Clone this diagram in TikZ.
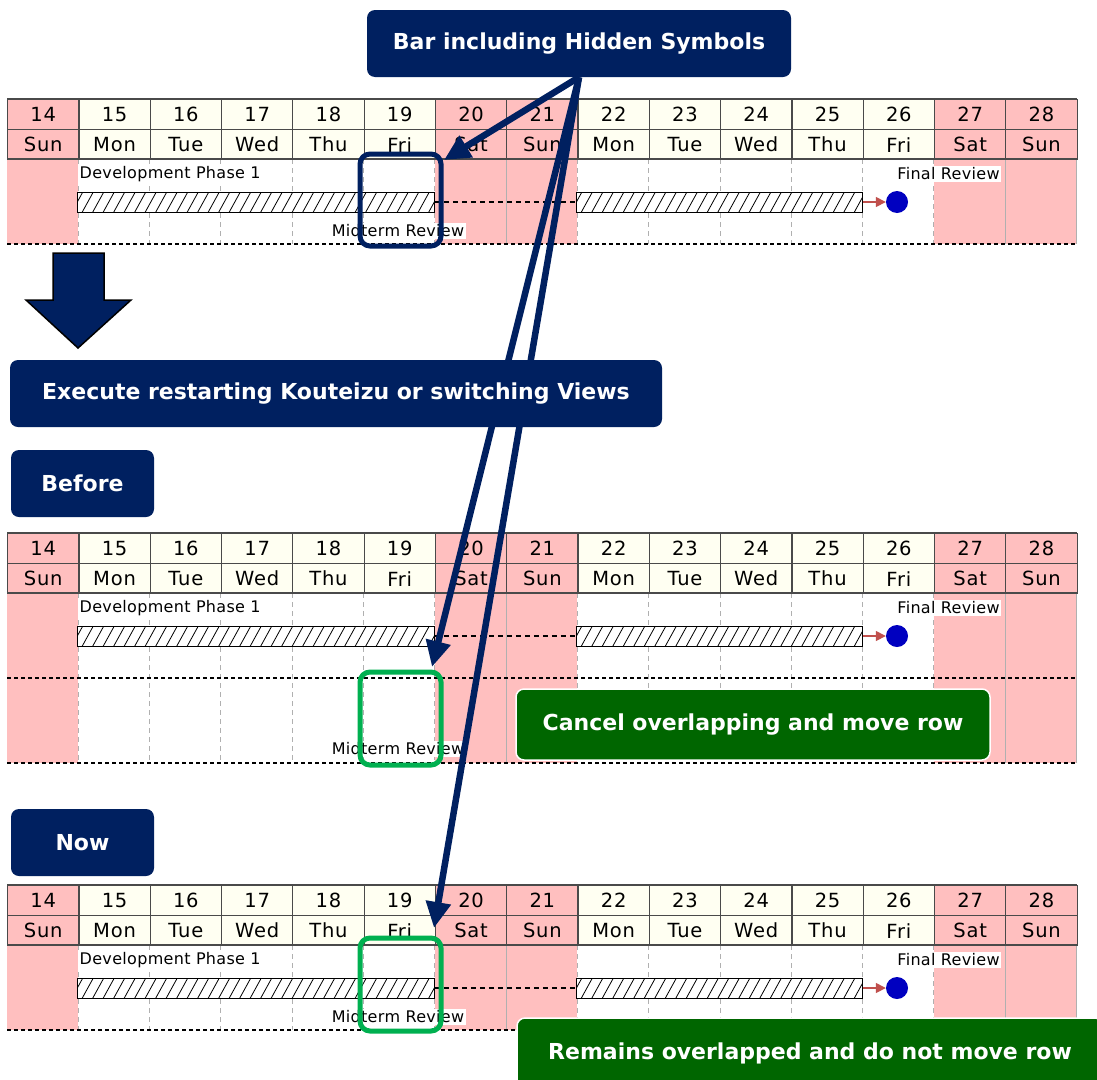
\documentclass[tikz,border=0pt]{standalone}
\usepackage{fontspec}
\setmainfont{DejaVu Sans}
\newfontfamily\gfont[LetterSpace=4]{DejaVu Sans}
\newfontfamily\lfont[LetterSpace=2]{DejaVu Sans}
\usetikzlibrary{arrows.meta}
\definecolor{navy}{HTML}{002060}
\definecolor{wkend}{HTML}{FFBFBF}
\definecolor{wkday}{HTML}{FFFFF2}
\definecolor{hdrline}{HTML}{4A4A4A}
\definecolor{sepgray}{HTML}{B0B0B0}
\definecolor{dkgreen}{HTML}{006600}
\definecolor{brgreen}{HTML}{00B050}
\definecolor{msred}{HTML}{C0504D}
\definecolor{msblue}{HTML}{0000C0}

\newcommand\drawgantt[3]{%
\begin{scope}[shift={(0,#2)}]
\pgfmathsetmacro\gbot{60+85*#3}
\pgfmathsetmacro\gmid{132+84*(#3-1)}
\foreach \i in {0,6,7,13,14}{\fill[wkend] ({7+71.3*\i},60) rectangle ({7+71.3*(\i+1)},\gbot);}
\foreach \i in {1,2,3,4,5,6,8,9,10,11,12,13}{\draw[bodysep] ({7+71.3*\i},60) -- ({7+71.3*\i},\gbot);}
\foreach \i in {7,14,15}{\draw[bodysolid] ({7+71.3*\i},60) -- ({7+71.3*\i},\gbot);}
\foreach \i/\gn/\gd/\gc in {0/14/Sun/wkend,1/15/Mon/wkday,2/16/Tue/wkday,3/17/Wed/wkday,4/18/Thu/wkday,5/19/Fri/wkday,6/20/Sat/wkend,7/21/Sun/wkend,8/22/Mon/wkday,9/23/Tue/wkday,10/24/Wed/wkday,11/25/Thu/wkday,12/26/Fri/wkday,13/27/Sat/wkend,14/28/Sun/wkend}{
 \node[hcell,fill=\gc,anchor=north west] (#1n\i) at ({7+71.3*\i},0) {\gn};
 \node[hcell,fill=\gc,anchor=north west] (#1d\i) at ({7+71.3*\i},30) {\gd};
}
\draw[hdrline, line width=1.6pt] (7,60) -- (1077,60);
\draw[hdrline, line width=1.6pt] (7,0) -- (1077,0);
\ifnum#3>1 \draw[rowline] (7,145) -- (1077,145);\fi
\draw[rowline] (7,\gbot) -- (1077,\gbot);
\node[lbl,anchor=west] (#1dev) at (78,75) {Development Phase 1};
\node[hbar,minimum width=356.5pt,anchor=west] (#1barA) at (77.3,103) {};
\node[hbar,minimum width=285.2pt,anchor=west] (#1barB) at (576.4,103) {};
\draw[conn] (#1barA.east) -- (#1barB.west);
\node[ms] (#1ms) at (897,103) {};
\draw[redarr] (#1barB.east) -- (#1ms.west);
\node[lbl] (#1fin) at (948.5,75) {Final Review};
\node[lbl] (#1mid) at (398,\gmid) {Midterm Review};
\end{scope}}

\begin{document}
\begin{tikzpicture}[x=1pt,y=-1pt,
  hcell/.style={draw=hdrline, line width=1.2pt, minimum width=71.3pt, minimum height=30pt, inner sep=0pt, font=\gfont\fontsize{19.5}{20}\selectfont},
  bodysep/.style={draw=sepgray, line width=1pt, dash pattern=on 5pt off 4pt},
  bodysolid/.style={draw=sepgray, line width=1pt},
  rowline/.style={draw=black, line width=1.2pt, dash pattern=on 4pt off 3pt},
  lbl/.style={fill=white, inner sep=1.5pt, font=\lfont\fontsize{16}{18}\selectfont},
  hbar/.style={draw=black, line width=1pt, fill=white, minimum height=20pt, inner sep=0pt,
    path picture={\foreach \k in {0,...,40}{\draw[line width=0.8pt] ([xshift={\k*10.5pt-6pt}]path picture bounding box.south west) -- ++(11,-20);}}},
  conn/.style={draw=black, line width=1.2pt, dash pattern=on 5pt off 4pt},
  ms/.style={circle, fill=msblue, minimum size=22pt, inner sep=0pt},
  redarr/.style={draw=msred, line width=1.5pt, -{Triangle[length=10pt,width=10pt]}},
  hlbox/.style={rounded corners=10pt, line width=5pt, inner sep=0pt},
  callout/.style={fill=navy, rounded corners=8pt, text=white, font=\bfseries\fontsize{22}{26}\selectfont, inner sep=0pt, align=center},
  gcallout/.style={fill=dkgreen, draw=white, line width=1.5pt, rounded corners=8pt, text=white, font=\bfseries\fontsize{22}{26}\selectfont, inner sep=0pt, align=center},
  navyarr/.style={draw=navy, line width=6.5pt, -{Triangle[length=26pt,width=24pt]}}
]
\useasboundingbox (0,0) rectangle (1097,1079);
\fill[white] (0,0) rectangle (1097,1079);

\drawgantt{ga}{99}{1}
\drawgantt{gb}{533}{2}
\drawgantt{gc}{885}{1}

\node[hlbox, draw=navy, minimum width=81pt, minimum height=92pt] (hlA) at (400.5,200) {};
\node[hlbox, draw=brgreen, minimum width=81pt, minimum height=93pt] (hlB) at (400.5,718.5) {};
\node[hlbox, draw=brgreen, minimum width=81pt, minimum height=93pt] (hlC) at (400.5,984.5) {};

\draw[fill=navy, draw=black, line width=1.5pt] (53,253) -- (104,253) -- (104,300) -- (131,300) -- (78,348) -- (26,300) -- (53,300) -- cycle;

\node[gcallout, minimum width=474pt, minimum height=71pt] (cancel) at (753,724.5) {Cancel overlapping and move row};
\node[gcallout, minimum width=586pt, minimum height=70pt] (remain) at (810,1053) {Remains overlapped and do not move row};

\node[callout, minimum width=424pt, minimum height=67pt] (hid) at (579,43.5) {Bar including Hidden Symbols};
\coordinate (tipA) at (444,160);
\coordinate (tipB) at (432,667);
\coordinate (tipC) at (434,928);
\draw[navyarr] (hid.south) -- (tipA);
\draw[navyarr] (hid.south) -- (tipB);
\draw[navyarr] (hid.south) -- (tipC);

\node[callout, minimum width=652pt, minimum height=67pt] (exe) at (336,393.5) {Execute restarting Kouteizu or switching Views};
\node[callout, minimum width=143pt, minimum height=67pt] (before) at (82.5,483.5) {Before};
\node[callout, minimum width=143pt, minimum height=67pt] (now) at (82.5,842.5) {Now};
\end{tikzpicture}
\end{document}
